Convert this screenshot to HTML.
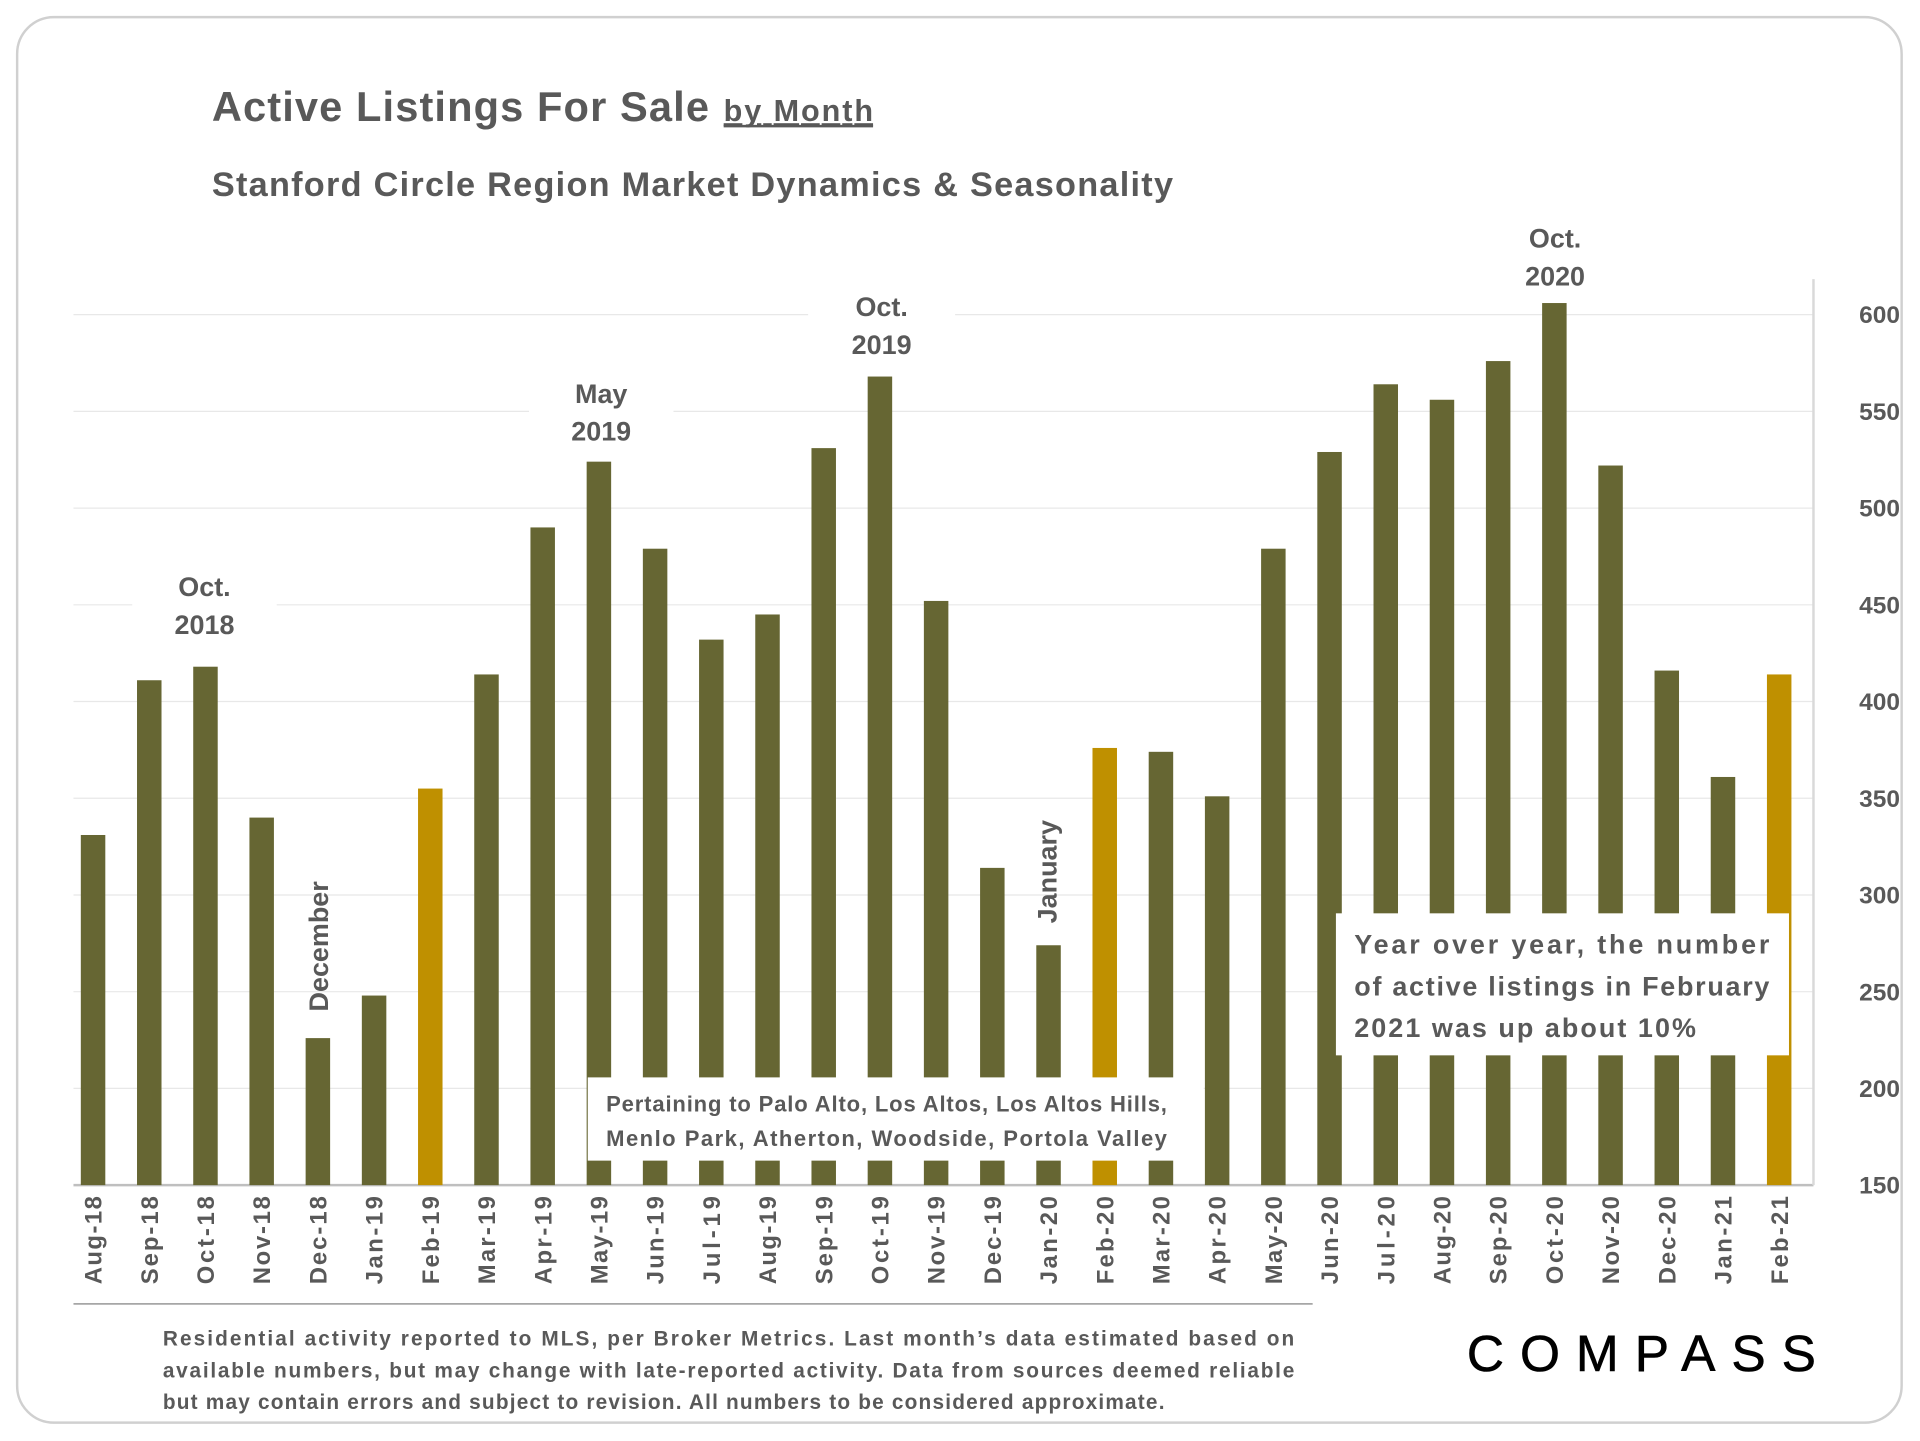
<!DOCTYPE html>
<html><head><meta charset="utf-8"><style>
html,body{margin:0;padding:0;background:#fff;}
svg{display:block;font-family:"Liberation Sans",sans-serif;}
</style></head><body>
<svg id="chart" width="1920" height="1441" viewBox="0 0 1568 1177" preserveAspectRatio="none" xmlns="http://www.w3.org/2000/svg">
<rect x="14" y="14" width="1539" height="1148" rx="30" fill="#fff" stroke="#d0d0d0" stroke-width="2"/>
<text x="173" y="99" font-size="34" font-weight="bold" fill="#595959" textLength="406">Active Listings For Sale</text>
<text x="591" y="99" font-size="25" font-weight="bold" fill="#595959" text-decoration="underline" textLength="122">by Month</text>
<line x1="591" y1="103" x2="713" y2="103" stroke="#595959" stroke-width="2"/>
<text x="173" y="160" font-size="28" font-weight="bold" fill="#595959" textLength="785">Stanford Circle Region Market Dynamics &amp; Seasonality</text>
<g id="grid"></g>
<line x1="1481" y1="228" x2="1481" y2="968" stroke="#d9d9d9" stroke-width="2"/>
<g id="bars"></g>
<g id="xlabels"></g>
<g id="ylabels"></g>
<g font-weight="bold" fill="#595959" font-size="22" text-anchor="middle">
<rect x="108" y="455" width="118" height="70" fill="#fff"/>
<text x="167" y="487">Oct.</text><text x="167" y="518">2018</text>
<rect x="432" y="300" width="118" height="70" fill="#fff"/>
<text x="491" y="329">May</text><text x="491" y="360">2019</text>
<rect x="660" y="228" width="120" height="70" fill="#fff"/>
<text x="720" y="258">Oct.</text><text x="720" y="289">2019</text>
<text x="1270" y="202">Oct.</text><text x="1270" y="233">2020</text>
<text transform="translate(268,773) rotate(-90)">December</text>
<text transform="translate(863,712) rotate(-90)">January</text>
</g>
<rect x="480" y="880" width="503" height="68" fill="#fff"/>
<g font-weight="bold" fill="#595959" font-size="18" text-anchor="middle">
<text x="724" y="908" textLength="458">Pertaining to Palo Alto, Los Altos, Los Altos Hills,</text>
<text x="724" y="936" textLength="458">Menlo Park, Atherton, Woodside, Portola Valley</text>
</g>
<rect x="1091" y="746" width="370" height="116" fill="#fff"/>
<g font-weight="bold" fill="#595959" font-size="22">
<text x="1106" y="779" textLength="339">Year over year, the number</text>
<text x="1106" y="813" textLength="339">of active listings in February</text>
<text x="1106" y="847" textLength="279">2021 was up about 10%</text>
</g>
<line x1="60" y1="1065" x2="1072" y2="1065" stroke="#a6a6a6" stroke-width="1.5"/>
<g font-weight="bold" fill="#595959" font-size="17">
<text x="133" y="1099" textLength="924">Residential activity reported to MLS, per Broker Metrics. Last month’s data estimated based on</text>
<text x="133" y="1125" textLength="924">available numbers, but may change with late-reported activity. Data from sources deemed reliable</text>
<text x="133" y="1151" textLength="818">but may contain errors and subject to revision. All numbers to be considered approximate.</text>
</g>
<text x="1198" y="1120" font-size="42" fill="#000" stroke="#000" stroke-width="0.5" textLength="285" lengthAdjust="spacing">COMPASS</text>
</svg>
<script>
const categories=["Aug-18","Sep-18","Oct-18","Nov-18","Dec-18","Jan-19","Feb-19","Mar-19","Apr-19","May-19","Jun-19","Jul-19","Aug-19","Sep-19","Oct-19","Nov-19","Dec-19","Jan-20","Feb-20","Mar-20","Apr-20","May-20","Jun-20","Jul-20","Aug-20","Sep-20","Oct-20","Nov-20","Dec-20","Jan-21","Feb-21"];
const listings=[331,411,418,340,226,248,355,414,490,524,479,432,445,531,568,452,314,274,376,374,351,479,529,564,556,576,606,522,416,361,414];
const highlighted=["Feb-19","Feb-20","Feb-21"];
const yTicks=[150,200,250,300,350,400,450,500,550,600];
const NS="http://www.w3.org/2000/svg";
const yMin=150,yMax=600,yBot=968,yTop=257,x0=76,x1=1453;
function yScale(v){return yBot-(v-yMin)/(yMax-yMin)*(yBot-yTop);}
function xScale(i){return x0+i*(x1-x0)/(categories.length-1);}
function mk(t,a){const e=document.createElementNS(NS,t);for(const k in a)e.setAttribute(k,a[k]);return e;}
const grid=document.getElementById('grid'),ylab=document.getElementById('ylabels');
yTicks.forEach(v=>{
  const l=mk('line',{x1:60,x2:1481,y1:yScale(v),y2:yScale(v),stroke:v===150?'#bfbfbf':'#e8e8e8','stroke-width':v===150?2:1});
  
  
  grid.appendChild(l);
  const t=mk('text',{x:1535,y:yScale(v)+7,'text-anchor':'middle','font-size':20,'font-weight':'bold',fill:'#595959'});
  t.textContent=v;
  
  
  ylab.appendChild(t);
});
const bars=document.getElementById('bars'),xl=document.getElementById('xlabels');
categories.forEach((c,i)=>{
  const y=yScale(listings[i]);
  const r=mk('rect',{x:xScale(i)-10,y:y,width:20,height:yBot-y,fill:highlighted.includes(c)?'#bf9000':'#666633'});
  
  
  bars.appendChild(r);
  const t=mk('text',{transform:'translate('+(xScale(i)+7)+',977) rotate(-90)','text-anchor':'end','font-size':19.5,'font-weight':'bold',fill:'#595959',textLength:72});
  t.textContent=c;
  
  
  xl.appendChild(t);
});
</script>
</body></html>
